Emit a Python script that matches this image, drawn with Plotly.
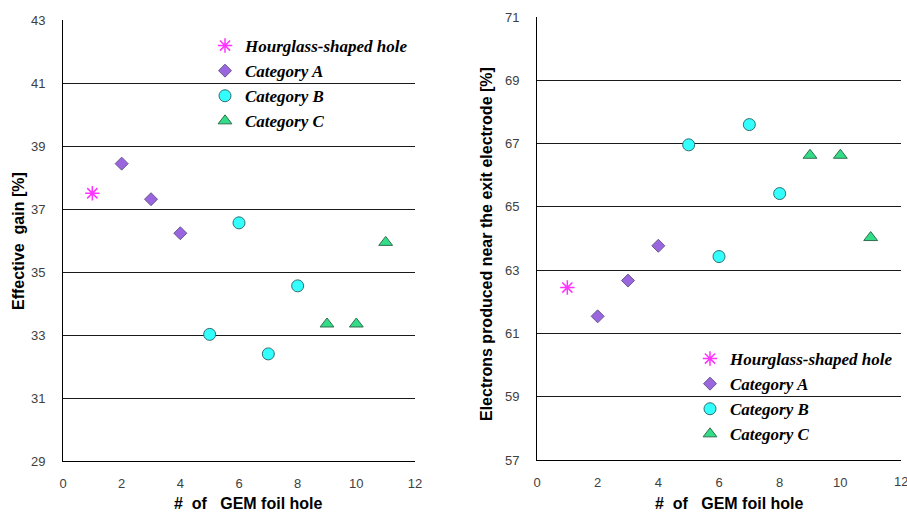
import plotly.graph_objects as go

# ---- data ----
hour_x = [1]
gain_hour = [37.5]
elec_hour = [62.45]

catA_x = [2, 3, 4]
gain_A = [38.44, 37.31, 36.23]
elec_A = [61.54, 62.67, 63.77]

catB_x = [5, 6, 7, 8]
gain_B = [33.02, 36.56, 32.40, 34.56]
elec_B = [66.96, 63.43, 67.60, 65.42]

catC_x = [9, 10, 11]
gain_C = [33.35, 33.35, 35.94]
elec_C = [66.63, 66.63, 64.03]

names = ["Hourglass-shaped hole", "Category A", "Category B", "Category C"]
x_ticks = [0, 2, 4, 6, 8, 10, 12]
gain_ticks = [29, 31, 33, 35, 37, 39, 41, 43]
elec_ticks = [57, 59, 61, 63, 65, 67, 69, 71]

styles = [
    dict(symbol="asterisk-open", size=12, color="#FF33FF", line=dict(color="#FF33FF", width=1.5)),
    dict(symbol="diamond", size=10, color="#9966E0", line=dict(color="#6A5A8A", width=1)),
    dict(symbol="circle", size=12, color="#33FFFF", line=dict(color="#2F6F6F", width=1)),
    dict(symbol="triangle-up", size=12, color="#33DD88", line=dict(color="#2F6F4F", width=1)),
]

fig = go.Figure()

left_sets = [(hour_x, gain_hour), (catA_x, gain_A), (catB_x, gain_B), (catC_x, gain_C)]
right_sets = [(hour_x, elec_hour), (catA_x, elec_A), (catB_x, elec_B), (catC_x, elec_C)]

for (xs, ys), nm, st in zip(left_sets, names, styles):
    fig.add_trace(go.Scatter(x=xs, y=ys, mode="markers", name="<b><i>" + nm + "</i></b>", marker=st,
                             xaxis="x", yaxis="y", legend="legend"))
for (xs, ys), nm, st in zip(right_sets, names, styles):
    fig.add_trace(go.Scatter(x=xs, y=ys, mode="markers", name="<b><i>" + nm + "</i></b>", marker=st,
                             xaxis="x2", yaxis="y2", legend="legend2"))

tickfont = dict(family="Liberation Sans, Arial, sans-serif", size=13, color="#404040")
legfont = dict(family="Liberation Serif, Times New Roman, serif", size=17, color="#000000")

def xaxis(domain, anchor):
    return dict(domain=domain, anchor=anchor, range=[0, 12], tickvals=x_ticks,
                showgrid=False, zeroline=False, showline=True, linecolor="#000000",
                linewidth=1, ticks="", tickfont=tickfont, ticklabelstandoff=10,
                fixedrange=True, automargin=False)

def yaxis(domain, anchor, rng, tv):
    return dict(domain=domain, anchor=anchor, range=rng, tickvals=tv,
                showgrid=True, gridcolor="#1a1a1a", gridwidth=1, zeroline=False,
                showline=True, linecolor="#000000", linewidth=1, ticks="",
                tickfont=tickfont, ticklabelstandoff=14, fixedrange=True, automargin=False)

fig.update_layout(
    width=907, height=513,
    margin=dict(l=0, r=0, t=0, b=0, autoexpand=False),
    paper_bgcolor="white", plot_bgcolor="white",
    xaxis=xaxis([63/907, 415/907], "y"),
    yaxis=yaxis([1-461/513, 1-20/513], "x", [29, 43], gain_ticks),
    xaxis2=xaxis([537/907, 901/907], "y2"),
    yaxis2=yaxis([1-460/513, 1-17/513], "x2", [57, 71], elec_ticks),
    legend=dict(x=205/907, y=1-28/513, xanchor="left", yanchor="top",
                font=legfont, bgcolor="rgba(0,0,0,0)", tracegroupgap=0, itemsizing="trace"),
    legend2=dict(x=690/907, y=1-341/513, xanchor="left", yanchor="top",
                 font=legfont, bgcolor="rgba(0,0,0,0)", tracegroupgap=0, itemsizing="trace"),
    showlegend=True,
)

# right-most x tick label sits on the page edge in the reference (plotly drops it)
fig.add_annotation(text=str(x_ticks[-1]), x=x_ticks[-1], xref="x2", y=1-481/513, yref="paper",
                   showarrow=False, font=tickfont, xanchor="center", yanchor="middle")

titlefont = dict(family="Liberation Sans, Arial, sans-serif", size=16, color="#000000")
xtitle = "#\u00a0\u00a0of\u00a0\u00a0\u00a0GEM foil hole"
fig.add_annotation(text="<b>" + xtitle + "</b>", x=248/907, y=1-503/513, xref="paper", yref="paper",
                   showarrow=False, font=titlefont, xanchor="center", yanchor="middle")
fig.add_annotation(text="<b>" + xtitle + "</b>", x=729/907, y=1-503/513, xref="paper", yref="paper",
                   showarrow=False, font=titlefont, xanchor="center", yanchor="middle")
fig.add_annotation(text="<b>Effective\u00a0\u00a0gain [%]</b>", x=18/907, y=1-241/513, xref="paper", yref="paper",
                   showarrow=False, font=titlefont, textangle=-90,
                   xanchor="center", yanchor="middle")
fig.add_annotation(text="<b>Electrons produced near the exit electrode [%]</b>", x=486/907, y=1-244/513,
                   xref="paper", yref="paper", showarrow=False, font=titlefont, textangle=-90,
                   xanchor="center", yanchor="middle")

fig.write_html("out.html", config={"displayModeBar": False},
               post_script="document.body.style.margin='0';document.body.style.overflow='hidden';")
